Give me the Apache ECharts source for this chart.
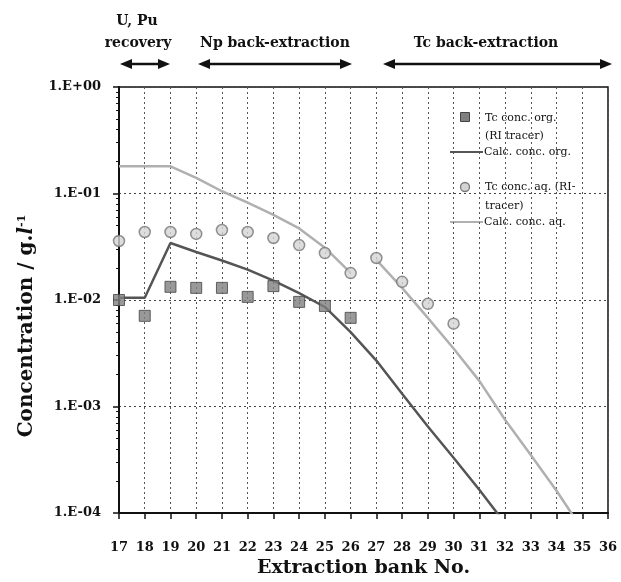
<!DOCTYPE html>
<html>
<head>
<meta charset="utf-8">
<script src="https://cdn.jsdelivr.net/npm/echarts@6/dist/echarts.min.js"></script>
<style>
html,body{margin:0;padding:0;background:#fff;}
#chart{width:621px;height:582px;}
</style>
</head>
<body>
<div id="chart"></div>
<script>
// ---- data ----
const yTickLabels = ['1.E+00', '1.E-01', '1.E-02', '1.E-03', '1.E-04'];
const orgMeasBanks = [17, 18, 19, 20, 21, 22, 23, 24, 25, 26];
const orgMeasValues = [0.0100, 0.0071, 0.0133, 0.0130, 0.0130, 0.0107, 0.0135, 0.0096, 0.0088, 0.0068];
const aqMeasBanks = [17, 18, 19, 20, 21, 22, 23, 24, 25, 26, 27, 28, 29, 30];
const aqMeasValues = [0.0358, 0.0435, 0.0435, 0.0417, 0.0454, 0.0435, 0.0382, 0.0328, 0.0276, 0.0179, 0.0248, 0.0148, 0.0092, 0.0060];
const calcOrgBanks = [17, 18, 19, 20, 21, 22, 23, 24, 25, 26, 27, 28, 29, 30, 31, 32];
const calcOrgValues = [0.0105, 0.0105, 0.0343, 0.0282, 0.0235, 0.0193, 0.0152, 0.0116, 0.0086, 0.0050, 0.0027, 0.00132, 0.00065, 0.00033, 0.000165, 0.000080];
const calcAqBanksA = [17, 18, 19, 20, 21, 22, 23, 24, 25, 26];
const calcAqValuesA = [0.18, 0.18, 0.18, 0.14, 0.105, 0.082, 0.063, 0.047, 0.031, 0.018];
const calcAqBanksB = [27, 28, 29, 30, 31, 32, 33, 34, 35];
const calcAqValuesB = [0.0238, 0.0130, 0.0068, 0.0035, 0.00174, 0.00075, 0.00035, 0.000162, 0.00007];
const stageLabels = ['U, Pu', 'recovery', 'Np back-extraction', 'Tc back-extraction'];
const legendNames = ['Tc conc. org.', '(RI tracer)', 'Calc. conc. org.', 'Tc conc. aq. (RI-', 'tracer)', 'Calc. conc. aq.'];

function pairs(xs, ys) { return xs.map((x, i) => [x, ys[i]]); }

const SERIF = "'DejaVu Serif', 'Liberation Serif', serif";
const chart = echarts.init(document.getElementById('chart'), null, {renderer: 'canvas'});

function arrow(x0, x1, y) {
  return [
    {type: 'line', shape: {x1: x0 + 8, y1: y, x2: x1 - 8, y2: y}, style: {stroke: '#111', lineWidth: 2.5}},
    {type: 'polygon', shape: {points: [[x0, y], [x0 + 12, y - 5], [x0 + 12, y + 5]]}, style: {fill: '#111'}},
    {type: 'polygon', shape: {points: [[x1, y], [x1 - 12, y - 5], [x1 - 12, y + 5]]}, style: {fill: '#111'}}
  ];
}
function txt(x, y, t, font, align) {
  return {type: 'text', x: x, y: y, style: {text: t, font: font, fill: '#111', align: align || 'center', verticalAlign: 'middle'}};
}

const legendFont = "11px " + SERIF;
const stageFont = "bold 14px " + SERIF;
const graphics = [].concat(
  [
    txt(137, 21, stageLabels[0], stageFont),
    txt(138, 43, stageLabels[1], stageFont),
    txt(275, 43, stageLabels[2], stageFont),
    txt(486, 43, stageLabels[3], stageFont)
  ],
  arrow(120, 170, 64), arrow(198, 352, 64), arrow(383, 612, 64),
  [
    // legend
    {type: 'rect', shape: {x: 460.5, y: 112.5, width: 9, height: 9}, style: {fill: '#7f7f7f', stroke: '#444', lineWidth: 1}},
    txt(485, 118, legendNames[0], legendFont, 'left'),
    txt(485, 136, legendNames[1], legendFont, 'left'),
    {type: 'line', shape: {x1: 450, y1: 152, x2: 483, y2: 152}, style: {stroke: '#555', lineWidth: 2}},
    txt(484, 152, legendNames[2], legendFont, 'left'),
    {type: 'circle', shape: {cx: 465, cy: 187, r: 4.5}, style: {fill: '#d4d4d4', stroke: '#777', lineWidth: 1.3}},
    txt(485, 187, legendNames[3], legendFont, 'left'),
    txt(485, 206, legendNames[4], legendFont, 'left'),
    {type: 'line', shape: {x1: 450, y1: 222, x2: 483, y2: 222}, style: {stroke: '#b0b0b0', lineWidth: 2}},
    txt(484, 222, legendNames[5], legendFont, 'left'),
    // y axis title
    {
      type: 'text', x: 27, y: 326, rotation: Math.PI / 2,
      style: {
        text: '{a|Concentration / g.}{b|l}{c|-1}',
        align: 'center', verticalAlign: 'middle',
        rich: {
          a: {font: "bold 20px " + SERIF, fill: '#111'},
          b: {font: "italic bold 20px " + SERIF, fill: '#111'},
          c: {font: "bold 11px " + SERIF, fill: '#111', padding: [0, 0, 10, 0]}
        }
      }
    }
  ]
);

const option = {
  animation: false,
  backgroundColor: '#fff',
  grid: {left: 119, right: 13, top: 87, bottom: 69, outerBoundsMode: 'none', containLabel: false,
         show: true, borderColor: '#111', borderWidth: 1.5, backgroundColor: 'transparent'},
  xAxis: {
    type: 'value', min: 17, max: 36, interval: 1,
    name: 'Extraction bank No.', nameLocation: 'middle', nameGap: 46,
    nameTextStyle: {fontFamily: SERIF, fontWeight: 'bold', fontSize: 19, color: '#111'},
    axisLine: {show: true, onZero: false, lineStyle: {color: '#111', width: 2}},
    axisTick: {show: true, length: 6, lineStyle: {color: '#111', width: 1.5}},
    axisLabel: {fontFamily: SERIF, fontWeight: 'bold', fontSize: 13, color: '#111', margin: 28},
    splitLine: {show: true, lineStyle: {color: '#555', type: [2, 3], width: 1}}
  },
  yAxis: {
    type: 'log', logBase: 10, min: 0.0001, max: 1,
    axisLine: {show: true, lineStyle: {color: '#111', width: 2}},
    axisTick: {show: true, length: 6, lineStyle: {color: '#111', width: 1.5}},
    minorTick: {show: true, splitNumber: 9, length: 3, lineStyle: {color: '#111'}},
    axisLabel: {
      fontFamily: SERIF, fontWeight: 'bold', fontSize: 13, color: '#111', margin: 18,
      formatter: function (v) {
        const e = Math.round(-Math.log10(v));
        return yTickLabels[e] !== undefined ? yTickLabels[e] : '';
      }
    },
    splitLine: {show: true, lineStyle: {color: '#444', type: [2, 3], width: 1}}
  },
  series: [
    {
      name: 'Calc. conc. aq.', type: 'line', data: pairs(calcAqBanksA, calcAqValuesA),
      symbol: 'none', lineStyle: {color: '#b0b0b0', width: 2.5}, z: 2
    },
    {
      name: 'Calc. conc. aq.', type: 'line', data: pairs(calcAqBanksB, calcAqValuesB),
      symbol: 'none', lineStyle: {color: '#b0b0b0', width: 2.5}, z: 2
    },
    {
      name: 'Calc. conc. org.', type: 'line', data: pairs(calcOrgBanks, calcOrgValues),
      symbol: 'none', lineStyle: {color: '#555', width: 2.5}, z: 3
    },
    {
      name: 'Tc conc. aq. (RI-tracer)', type: 'scatter', data: pairs(aqMeasBanks, aqMeasValues),
      symbol: 'circle', symbolSize: 11,
      itemStyle: {color: '#d4d4d4', borderColor: '#777', borderWidth: 1.5}, z: 4
    },
    {
      name: 'Tc conc. org. (RI tracer)', type: 'scatter', data: pairs(orgMeasBanks, orgMeasValues),
      symbol: 'rect', symbolSize: 11,
      itemStyle: {color: '#7f7f7f', borderColor: '#444', borderWidth: 1}, z: 5
    }
  ],
  graphic: graphics
};
chart.setOption(option);
</script>
</body>
</html>
